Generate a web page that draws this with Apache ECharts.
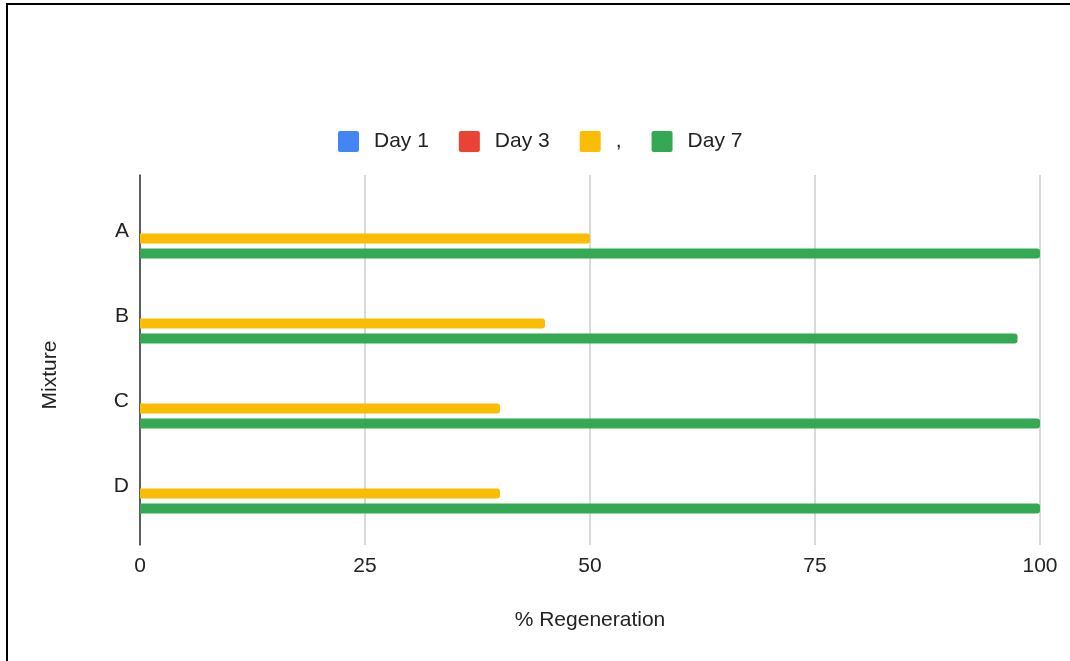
<!DOCTYPE html>
<html>
<head>
<meta charset="utf-8">
<script src="https://cdn.jsdelivr.net/npm/echarts@6/dist/echarts.min.js"></script>
<style>
html,body{margin:0;padding:0;background:#fff;}
#chart{width:1070px;height:661px;}
</style>
</head>
<body>
<div id="chart"></div>
<script>
const categories = ['A', 'B', 'C', 'D'];
const seriesNames = ['Day 1', 'Day 3', ',', 'Day 7'];
const day1 = [null, null, null, null];
const day3 = [null, null, null, null];
const comma = [50, 45, 40, 40];
const day7 = [100, 97.5, 100, 100];
const xTicks = [0, 25, 50, 75, 100];

const colors = ['#4285F4', '#EA4335', '#FBBC04', '#34A853'];
const font = "'Liberation Sans', Arial, sans-serif";
const allData = [day1, day3, comma, day7];
const squareIcon = 'path://M2,0H18Q20,0 20,2V18Q20,20 18,20H2Q0,20 0,18V2Q0,0 2,0Z';

const chart = echarts.init(document.getElementById('chart'));
chart.setOption({
  animation: false,
  backgroundColor: '#ffffff',
  color: colors,
  textStyle: { fontFamily: font },
  legend: {
    left: 333,
    top: 126,
    itemWidth: 21,
    itemHeight: 21,
    itemGap: 30,
    icon: squareIcon,
    textStyle: { fontSize: 21, color: '#222', fontFamily: font, padding: [0, 0, 0, 10] },
    data: seriesNames
  },
  grid: [
    { left: 140, right: 30, top: 175, height: 370, containLabel: false },
    { left: 140, right: 30, top: 188.5, height: 340, containLabel: false }
  ],
  xAxis: [
    {
      type: 'value', gridIndex: 0, min: xTicks[0], max: xTicks[xTicks.length - 1], interval: 25,
      axisLine: { show: false }, axisTick: { show: false },
      splitLine: { show: true, lineStyle: { color: '#cccccc', width: 1.5 } },
      axisLabel: { fontSize: 21, color: '#222', margin: 11, fontFamily: font },
      name: '% Regeneration', nameLocation: 'middle', nameGap: 65,
      nameTextStyle: { fontSize: 21, color: '#222', fontFamily: font }
    },
    {
      type: 'value', gridIndex: 1, min: xTicks[0], max: xTicks[xTicks.length - 1], interval: 25, show: false
    }
  ],
  yAxis: [
    {
      type: 'value', gridIndex: 0, min: 0, max: 1,
      axisLine: { show: true, lineStyle: { color: '#333', width: 1.5 } },
      axisTick: { show: false }, axisLabel: { show: false }, splitLine: { show: false }
    },
    {
      type: 'category', gridIndex: 1, data: categories, inverse: true,
      axisLine: { show: false }, axisTick: { show: false }, splitLine: { show: false },
      axisLabel: { fontSize: 21, color: '#222', margin: 11, fontFamily: font }
    }
  ],
  graphic: [
    { type: 'line', shape: { x1: 6, y1: 4, x2: 1070, y2: 4 }, style: { stroke: '#000', lineWidth: 2 } },
    { type: 'line', shape: { x1: 7, y1: 3, x2: 7, y2: 661 }, style: { stroke: '#000', lineWidth: 2 } },
    { type: 'text', x: 50, y: 375, rotation: Math.PI / 2,
      style: { text: 'Mixture', fontSize: 21, fill: '#222', fontFamily: font, align: 'center', verticalAlign: 'middle' } }
  ],
  series: seriesNames.map((name, i) => ({
    name: name,
    type: 'bar',
    xAxisIndex: 1,
    yAxisIndex: 1,
    data: allData[i],
    barWidth: 10,
    barGap: '50%',
    itemStyle: { color: colors[i], borderRadius: [0, 3, 3, 0] }
  }))
});
</script>
</body>
</html>
